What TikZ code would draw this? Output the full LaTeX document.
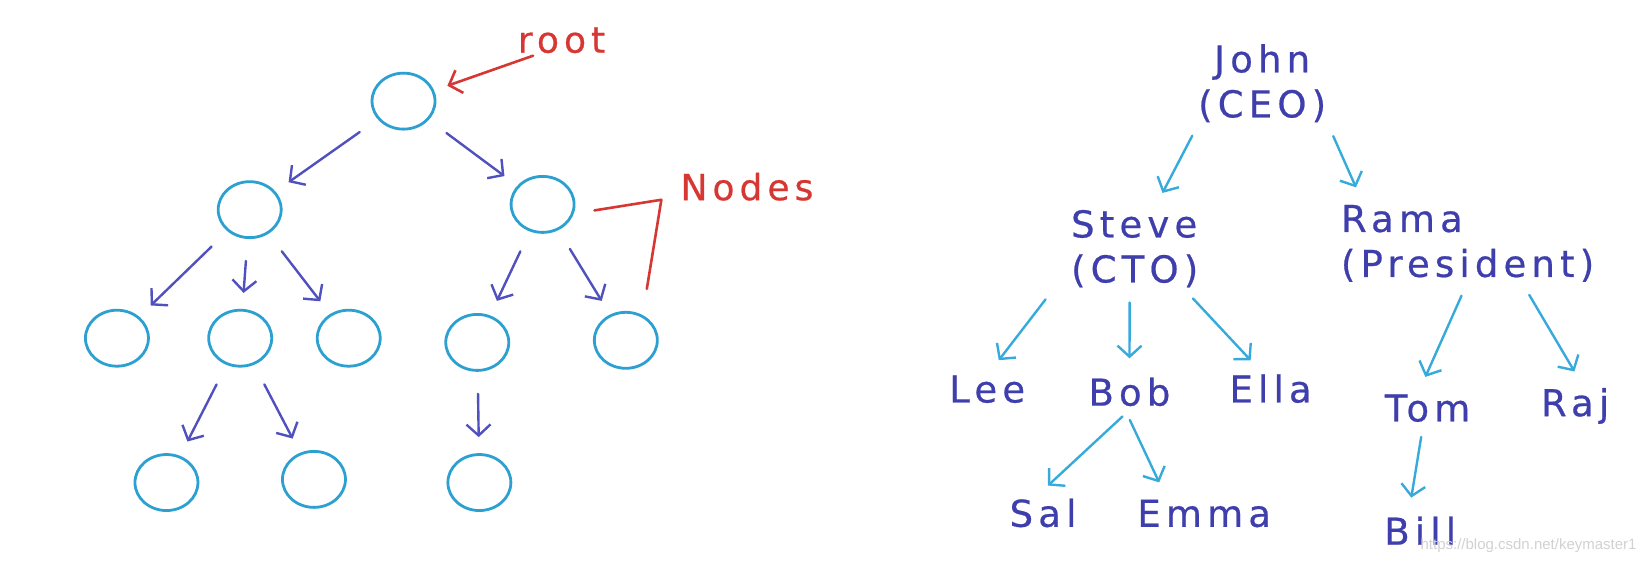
\documentclass[tikz,border=0pt]{standalone}
\usepackage{fontspec}
\setmainfont{DejaVu Sans}[LetterSpace=14,FakeBold=0.6]
\newfontfamily\markfont{Liberation Sans}
\usetikzlibrary{arrows.meta,shapes.geometric}

\definecolor{ringblue}{RGB}{45,160,210}
\definecolor{linkpurple}{RGB}{80,80,190}
\definecolor{notered}{RGB}{215,55,50}
\definecolor{namepurple}{RGB}{62,62,172}
\definecolor{linkblue}{RGB}{55,170,220}

\tikzset{
  ring/.style={ellipse, draw=ringblue, line width=2.8pt, minimum width=63pt, minimum height=56pt, inner sep=0pt},
  treelink/.style={-{Straight Barb[length=11pt,width=24pt]}, linkpurple, line width=2.4pt, shorten <=22pt, shorten >=16pt},
  person/.style={text=namepurple, font=\fontsize{37}{45}\selectfont, inner sep=0pt},
  orglink/.style={-{Straight Barb[length=11pt,width=24pt]}, linkblue, line width=2.4pt, shorten <=15pt, shorten >=19pt},
  redlabel/.style={text=notered, font=\fontsize{36}{45}\selectfont, inner sep=0pt},
  redarrow/.style={-{Straight Barb[length=11pt,width=24pt]}, notered, line width=2.6pt, shorten <=7pt, shorten >=14pt},
}

\begin{document}
\begin{tikzpicture}[x=1.0536pt, y=-1.0536pt, line join=round, line cap=round]
      \useasboundingbox (0,0) rectangle (1568,532);

      \node[ring] (r) at (383,96) {};
      \node[ring] (a) at (237,199) {};
      \node[ring] (b) at (515,194) {};
      \node[ring] (a1) at (111,321) {};
      \node[ring] (a2) at (228,321) {};
      \node[ring] (a3) at (331,321) {};
      \node[ring] (b1) at (453,325) {};
      \node[ring] (b2) at (594,323) {};
      \node[ring] (a21) at (158,458) {};
      \node[ring] (a22) at (298,455) {};
      \node[ring] (b11) at (455,458) {};

      \foreach \u/\v in {r/a, r/b, a/a1, a/a2, a/a3, b/b1, b/b2, a2/a21, a2/a22, b1/b11}
      \draw[treelink] (\u) -- (\v);

      \node[redlabel, anchor=base] (rootlbl) at (533,50) {root};
      \node[redlabel, anchor=base] (nodeslbl) at (709,190) {Nodes};

      \draw[redarrow] ([xshift=22pt]rootlbl.south west) -- (r);
      \draw[notered, line width=2.6pt] ([xshift=19pt,yshift=-6pt]b.east)
        -- ([xshift=-19pt,yshift=-13pt]nodeslbl.west)
        -- ([xshift=21pt,yshift=22pt]b2.north);

      \node[person, align=center] (john) at (1198,79) {John\\(CEO)};
      \node[person, align=left] (steve) at (1077,236) {Steve\\(CTO)};
      \node[person, align=left] (rama) at (1393,231) {Rama\\(President)};
      \node[person, anchor=base] (lee) at (937,382) {Lee};
      \node[person, anchor=base] (bob) at (1072,385) {Bob};
      \node[person, anchor=base] (ella) at (1206,382) {Ella};
      \node[person, anchor=base] (tom) at (1355,400) {Tom};
      \node[person, anchor=base] (raj) at (1495,395) {Raj};
      \node[person, anchor=base] (sal) at (990,500) {Sal};
      \node[person, anchor=base] (emma) at (1143,500) {Emma};
      \node[person, anchor=base] (bill) at (1348,517) {Bill};

      \draw[orglink] ([xshift=-63pt]john.south) -- ([xshift=19pt]steve.north);
      \draw[orglink] ([xshift=65pt]john.south) -- ([xshift=-104pt]rama.north);
      \draw[orglink] ([xshift=-80pt]steve.south) -- (lee.north);
      \draw[orglink] ([xshift=-5pt]steve.south) -- (bob.north);
      \draw[orglink] ([xshift=48pt]steve.south) -- ([xshift=-7pt]ella.north);
      \draw[orglink] (rama.south) -- ([xshift=-10pt]tom.north);
      \draw[orglink] ([xshift=54pt]rama.south) -- ([xshift=9pt]raj.north);
      \draw[orglink] ([xshift=4pt]bob.south) -- ([xshift=-9pt]sal.north);
      \draw[orglink] ([xshift=-6pt]bob.south) -- ([xshift=-37pt]emma.north);
      \draw[orglink] ([xshift=-4pt]tom.south) -- ([xshift=-12pt]bill.north);

      \node[text=black!18, font=\markfont\fontsize{15}{18}\selectfont, anchor=base west] (mark) at (1345,522) {https://blog.csdn.net/keymaster1};
    \end{tikzpicture}
\end{document}
